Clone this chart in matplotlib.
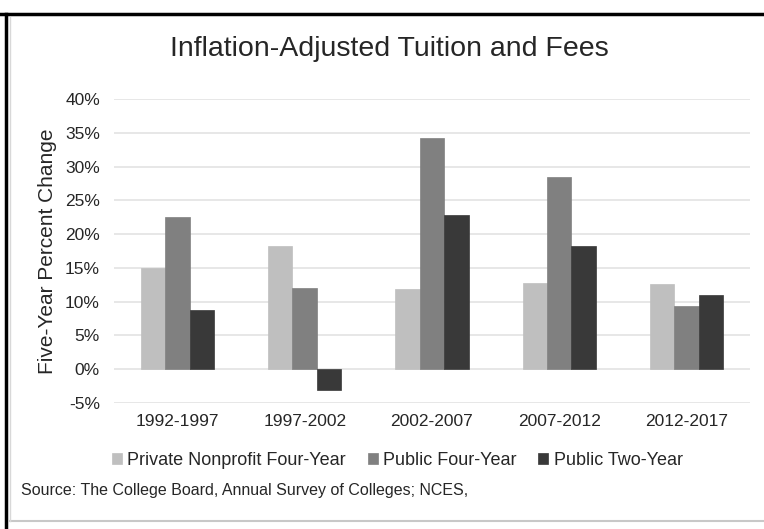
import matplotlib
matplotlib.use("Agg")
import matplotlib.pyplot as plt
import numpy as np
from matplotlib.lines import Line2D

plt.rcParams['font.family'] = ['Liberation Sans', 'DejaVu Sans']

categories = ["1992-1997", "1997-2002", "2002-2007", "2007-2012", "2012-2017"]
series_names = ["Private Nonprofit Four-Year", "Public Four-Year", "Public Two-Year"]
private_nonprofit = [15.0, 18.3, 11.8, 12.7, 12.6]
public_four = [22.5, 12.0, 34.2, 28.4, 9.3]
public_two = [8.8, -3.1, 22.9, 18.2, 11.0]
yticks = [-5, 0, 5, 10, 15, 20, 25, 30, 35, 40]

colors = ["#BFBFBF", "#808080", "#393939"]

fig = plt.figure(figsize=(7.64, 5.29), dpi=100)
ax = fig.add_axes([0.149, 0.2382, 0.8327, 0.5747])

x = np.arange(len(categories))
w = 0.192
for i, (vals, c, name) in enumerate(zip([private_nonprofit, public_four, public_two], colors, series_names)):
    ax.bar(x + (i - 1) * w, vals, width=w, color=c, edgecolor=c, linewidth=0.5, label=name, zorder=3)

ax.set_xlim(-0.5, len(categories) - 0.5)
ax.set_ylim(-5, 40)
ax.set_yticks(yticks)
ax.set_yticklabels([f"{t}%" for t in yticks], fontsize=12.5, color="#262626")
ax.set_xticks(x)
ax.set_xticklabels(categories, fontsize=12.5, color="#262626")
ax.tick_params(length=0, pad=8)
ax.tick_params(axis='y', pad=10)
ax.grid(axis='y', color="#E3E3E3", linewidth=1.2, zorder=0)
for s in ax.spines.values():
    s.set_visible(False)
ax.set_ylabel("Five-Year Percent Change", fontsize=15, color="#262626", labelpad=2)
ax.yaxis.set_label_coords(-0.09, 0.5)

fig.text(0.51, 0.907, "Inflation-Adjusted Tuition and Fees", ha="center", va="center",
         fontsize=20.5, color="#262626")

leg = fig.legend(loc="center", bbox_to_anchor=(0.52, 0.13), ncol=3, frameon=False,
                 fontsize=13, handlelength=0.55, handleheight=0.55, handletextpad=0.3,
                 columnspacing=1.2)
for t in leg.get_texts():
    t.set_color("#262626")

fig.text(0.028, 0.073, "Source: The College Board, Annual Survey of Colleges; NCES,",
         ha="left", va="center", fontsize=11.5, color="#262626")

# frame lines
fig.add_artist(Line2D([0.0, 1.0], [1 - 14/529, 1 - 14/529], transform=fig.transFigure,
                      color="black", linewidth=2.5))
fig.add_artist(Line2D([6/764, 6/764], [0, 1 - 14/529], transform=fig.transFigure,
                      color="black", linewidth=2.5))
fig.add_artist(Line2D([10/764, 1.0], [1 - 521/529, 1 - 521/529], transform=fig.transFigure,
                      color="#C8C8C8", linewidth=1.5))
fig.add_artist(Line2D([10/764, 10/764], [1 - 521/529, 1 - 17/529], transform=fig.transFigure,
                      color="#D8D8D8", linewidth=1.0))

fig.savefig("out.png", dpi=100)
